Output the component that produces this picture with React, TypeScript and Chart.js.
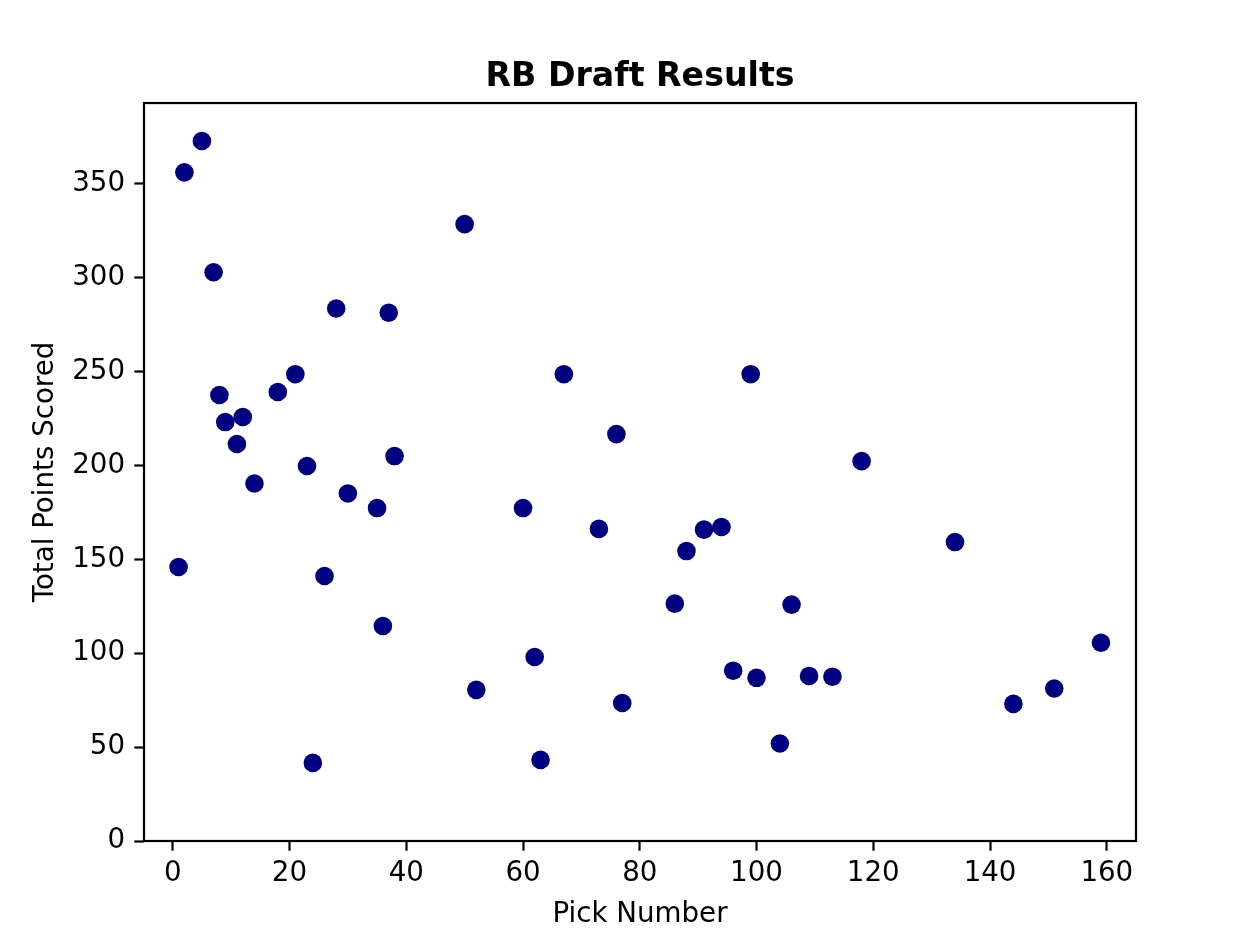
import { useEffect, useRef } from 'react';
import { Chart, registerables } from 'chart.js';

Chart.register(...registerables);

// Pick number of each running back drafted
const pickNumbers = [
  1, 2, 5, 7, 8, 9, 11, 12, 14, 18, 21, 23, 24, 26, 28, 30, 35, 36, 37, 38,
  50, 52, 60, 62, 63, 67, 73, 76, 77, 86, 88, 91, 94, 96, 99, 100, 104, 106,
  109, 113, 118, 134, 144, 151, 159,
];

// Total fantasy points scored by that pick
const totalPoints = [
  145.9, 356.1, 372.8, 302.9, 237.5, 223.1, 211.4, 225.8, 190.4, 239.1, 248.6,
  199.7, 41.6, 141.1, 283.6, 185.1, 177.3, 114.5, 281.3, 205.0, 328.5, 80.5,
  177.3, 98.0, 43.2, 248.6, 166.2, 216.7, 73.5, 126.4, 154.4, 165.8, 167.2,
  90.7, 248.6, 86.9, 51.9, 125.9, 87.9, 87.5, 202.3, 159.2, 73.0, 81.2, 105.6,
];

const xTicks = [0, 20, 40, 60, 80, 100, 120, 140, 160];
const yTicks = [0, 50, 100, 150, 200, 250, 300, 350];

const chartTitle = 'RB Draft Results';
const xTitle = 'Pick Number';
const yTitle = 'Total Points Scored';

const FONT = 'DejaVu Sans';

export default function App() {
  const ref = useRef<HTMLCanvasElement>(null);

  useEffect(() => {
    document.body.style.margin = '0';
    const canvas = ref.current;
    if (!canvas) return;

    const frame = {
      id: 'frame',
      afterDatasetsDraw(chart: any) {
        const { ctx, chartArea } = chart;
        ctx.save();
        ctx.strokeStyle = '#000';
        ctx.lineWidth = 2.2;
        ctx.strokeRect(
          chartArea.left,
          chartArea.top,
          chartArea.right - chartArea.left,
          chartArea.bottom - chartArea.top
        );
        ctx.restore();
      },
    };

    const tickFont = { family: FONT, size: 27.7 };

    const chart = new Chart(canvas, {
      type: 'scatter',
      data: {
        datasets: [
          {
            data: pickNumbers.map((x, i) => ({ x, y: totalPoints[i] })),
            backgroundColor: '#000080',
            borderColor: '#000080',
            pointRadius: 9.3,
            pointHoverRadius: 9.3,
            pointBorderWidth: 0,
            showLine: false,
          },
        ],
      },
      options: {
        responsive: false,
        animation: false,
        devicePixelRatio: 1,
        events: [],
        layout: { padding: { left: 0, right: 114, top: 0, bottom: 0 } },
        plugins: {
          legend: { display: false },
          tooltip: { enabled: false },
          title: {
            display: true,
            fullSize: false,
            text: chartTitle,
            color: '#000',
            font: { family: FONT, size: 33.2, weight: 'bold', lineHeight: 1.2 },
            padding: { top: 57.6, bottom: 5.6 },
          },
        },
        scales: {
          x: {
            type: 'linear',
            position: 'bottom',
            min: -4.92,
            max: 165,
            bounds: 'data',
            afterFit: (s: any) => {
              s.height = 97;
            },
            afterBuildTicks: (s: any) => {
              s.ticks = xTicks.map((v) => ({ value: v }));
            },
            grid: {
              display: true,
              drawOnChartArea: false,
              drawTicks: true,
              tickLength: 9.7,
              tickWidth: 2.2,
              tickColor: '#000',
            },
            border: { display: false },
            ticks: {
              color: '#000',
              font: tickFont,
              padding: 6,
              maxRotation: 0,
              autoSkip: false,
            },
            title: {
              display: true,
              text: xTitle,
              color: '#000',
              font: { family: FONT, size: 27.7, lineHeight: 1.2 },
              padding: { top: 0, bottom: 6.4 },
            },
          },
          y: {
            type: 'linear',
            position: 'left',
            min: 0,
            max: 393,
            bounds: 'data',
            afterFit: (s: any) => {
              s.width = 144;
            },
            afterBuildTicks: (s: any) => {
              s.ticks = yTicks.map((v) => ({ value: v }));
            },
            grid: {
              display: true,
              drawOnChartArea: false,
              drawTicks: true,
              tickLength: 9.7,
              tickWidth: 2.2,
              tickColor: '#000',
            },
            border: { display: false },
            ticks: {
              color: '#000',
              font: tickFont,
              padding: 9.3,
              autoSkip: false,
            },
            title: {
              display: true,
              text: yTitle,
              color: '#000',
              font: { family: FONT, size: 27.7, lineHeight: 1.2 },
              padding: { top: 29.4, bottom: 0 },
            },
          },
        },
      },
      plugins: [frame],
    } as any);

    return () => chart.destroy();
  }, []);

  return (
    <div style={{ width: 1250, height: 938, background: '#fff' }}>
      <canvas
        ref={ref}
        width={1250}
        height={938}
        style={{ display: 'block', width: 1250, height: 938 }}
      />
    </div>
  );
}
